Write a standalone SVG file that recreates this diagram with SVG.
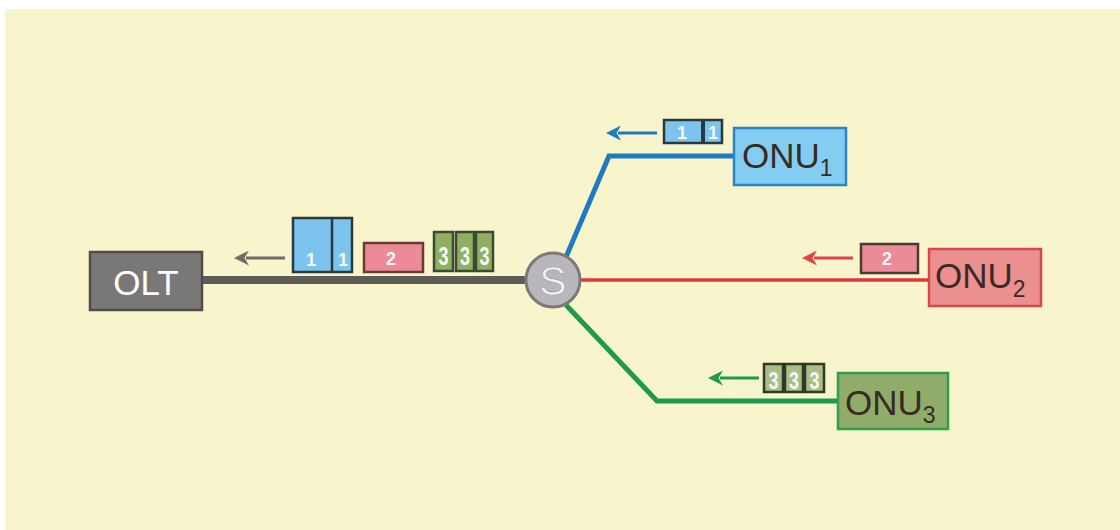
<svg xmlns="http://www.w3.org/2000/svg" width="1120" height="530" viewBox="0 0 1120 530">
  <defs>
    <style>
      .lbl { font-family: "Liberation Sans", Arial, sans-serif; }
      .node-text { font-size: 35px; fill: #3a2a22; }
      .sub { font-size: 23px; }
      .pkt-num { font-size: 18px; font-weight: bold; fill: #f4f8fa; text-anchor: middle; }
      .arrow { stroke-width: 3; fill: none; }
    </style>
    <marker id="ahGray" viewBox="0 0 10 10" refX="2" refY="5" markerWidth="5" markerHeight="5" orient="auto-start-reverse">
      <path d="M0,0 L10,5 L0,10 L3,5 z" fill="#6f6c69"/>
    </marker>
    <marker id="ahBlue" viewBox="0 0 10 10" refX="2" refY="5" markerWidth="5" markerHeight="5" orient="auto-start-reverse">
      <path d="M0,0 L10,5 L0,10 L3,5 z" fill="#1f7bc0"/>
    </marker>
    <marker id="ahRed" viewBox="0 0 10 10" refX="2" refY="5" markerWidth="5" markerHeight="5" orient="auto-start-reverse">
      <path d="M0,0 L10,5 L0,10 L3,5 z" fill="#e0444b"/>
    </marker>
    <marker id="ahGreen" viewBox="0 0 10 10" refX="2" refY="5" markerWidth="5" markerHeight="5" orient="auto-start-reverse">
      <path d="M0,0 L10,5 L0,10 L3,5 z" fill="#1d9a4b"/>
    </marker>
  </defs>

  <!-- page -->
  <rect x="0" y="0" width="1120" height="530" fill="#ffffff"/>
  <rect x="5" y="9" width="1115" height="521" fill="#f8f4cc"/>

  <!-- fibre links -->
  <g id="connectors" fill="none" stroke-linejoin="miter">
    <line x1="200" y1="280" x2="530" y2="280" stroke="#5e5c59" stroke-width="8"/>
    <polyline points="566,257 609,156 736,156" stroke="#1f7bc0" stroke-width="5"/>
    <line x1="578" y1="280" x2="930" y2="280" stroke="#d9393d" stroke-width="3.5"/>
    <polyline points="566,305 657,401 838,401" stroke="#1d9a4b" stroke-width="5"/>

    <!-- upstream direction arrows -->
    <line class="arrow" x1="285" y1="258" x2="246" y2="258" stroke="#6f6c69" marker-end="url(#ahGray)"/>
    <line class="arrow" x1="657" y1="133" x2="618" y2="133" stroke="#1f7bc0" marker-end="url(#ahBlue)"/>
    <line class="arrow" x1="853" y1="258" x2="814" y2="258" stroke="#e0444b" marker-end="url(#ahRed)"/>
    <line class="arrow" x1="759" y1="378" x2="720" y2="378" stroke="#1d9a4b" marker-end="url(#ahGreen)"/>
  </g>

  <!-- OLT -->
  <g id="olt">
    <rect x="90" y="252" width="112" height="58" fill="#7a7876" stroke="#4f4d4b" stroke-width="2.5"/>
    <text class="lbl" x="146" y="295" font-size="35" fill="#ffffff" text-anchor="middle">OLT</text>
  </g>

  <!-- splitter -->
  <g id="splitter">
    <circle cx="553" cy="280" r="27" fill="#bab7bc" stroke="#7b7979" stroke-width="3"/>
    <text class="lbl" x="553" y="295" font-size="41" fill="#f2f2f4" stroke="#9a979b" stroke-width="0.6" text-anchor="middle">S</text>
  </g>

  <!-- ONU 1 -->
  <g id="onu1">
    <rect x="734" y="128" width="112" height="57" fill="#83cdf2" stroke="#2b86c6" stroke-width="2.5"/>
    <text class="lbl node-text" x="742" y="168">ONU<tspan class="sub" dy="8">1</tspan></text>
  </g>

  <!-- ONU 2 -->
  <g id="onu2">
    <rect x="929" y="249" width="112" height="57" fill="#ec8f91" stroke="#d9474a" stroke-width="2.5"/>
    <text class="lbl node-text" x="935" y="288">ONU<tspan class="sub" dy="9">2</tspan></text>
  </g>

  <!-- ONU 3 -->
  <g id="onu3">
    <rect x="838" y="373" width="110" height="56" fill="#8fac6a" stroke="#2e9f4a" stroke-width="2.5"/>
    <text class="lbl node-text" x="845" y="415">ONU<tspan class="sub" dy="8">3</tspan></text>
  </g>

  <!-- frames on the trunk -->
  <g id="trunk-frames">
    <rect x="293" y="218" width="59" height="54" fill="#7cc4ee" stroke="#2a3a3c" stroke-width="2.5"/>
    <line x1="332" y1="218" x2="332" y2="272" stroke="#2a3a3c" stroke-width="2.5"/>
    <text class="lbl pkt-num" x="311" y="266">1</text>
    <text class="lbl pkt-num" x="343" y="266">1</text>

    <rect x="364" y="243" width="59" height="29" fill="#ec8b96" stroke="#6b3a34" stroke-width="2.5"/>
    <text class="lbl pkt-num" x="391" y="265">2</text>

    <rect x="434" y="232" width="19" height="39" fill="#8fb060" stroke="#3b4a30" stroke-width="2.5"/>
    <rect x="456" y="232" width="18" height="39" fill="#8fb060" stroke="#3b4a30" stroke-width="2.5"/>
    <rect x="476" y="232" width="17" height="39" fill="#8fb060" stroke="#3b4a30" stroke-width="2.5"/>
    <text class="lbl pkt-num" transform="translate(443.5,265) scale(1,1.45)" fill="#e6f0d8">3</text>
    <text class="lbl pkt-num" transform="translate(465,265) scale(1,1.45)" fill="#e6f0d8">3</text>
    <text class="lbl pkt-num" transform="translate(484.5,265) scale(1,1.45)" fill="#e6f0d8">3</text>
  </g>

  <!-- frames on the drop links -->
  <g id="onu1-frame">
    <rect x="664" y="120" width="58" height="23" fill="#7cc4ee" stroke="#2a3a3c" stroke-width="2.5"/>
    <line x1="703" y1="120" x2="703" y2="143" stroke="#2a3a3c" stroke-width="4"/>
    <text class="lbl pkt-num" x="682" y="139">1</text>
    <text class="lbl pkt-num" x="713" y="139">1</text>
  </g>
  <g id="onu2-frame">
    <rect x="861" y="244" width="57" height="29" fill="#ec8b96" stroke="#4a3a34" stroke-width="2.5"/>
    <text class="lbl pkt-num" x="887" y="265">2</text>
  </g>
  <g id="onu3-frame">
    <rect x="764" y="364" width="19" height="28" fill="#a9bf86" stroke="#2e3a26" stroke-width="2.5"/>
    <rect x="785" y="364" width="18" height="28" fill="#a9bf86" stroke="#2e3a26" stroke-width="2.5"/>
    <rect x="805" y="364" width="19" height="28" fill="#a9bf86" stroke="#2e3a26" stroke-width="2.5"/>
    <text class="lbl pkt-num" transform="translate(773.5,389) scale(1,1.35)" fill="#eef4e2">3</text>
    <text class="lbl pkt-num" transform="translate(794,389) scale(1,1.35)" fill="#eef4e2">3</text>
    <text class="lbl pkt-num" transform="translate(814.5,389) scale(1,1.35)" fill="#eef4e2">3</text>
  </g>
</svg>
